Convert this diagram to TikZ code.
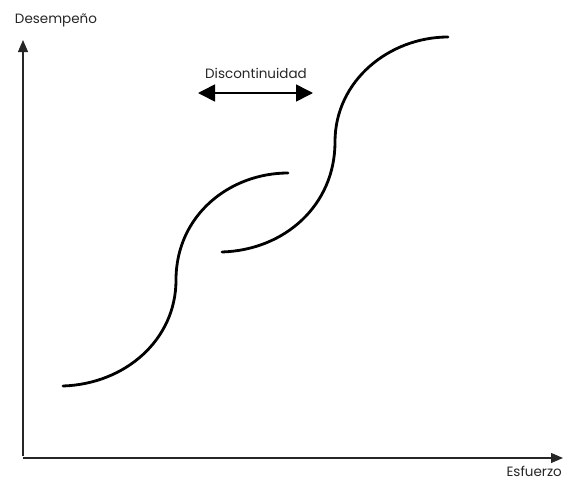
\documentclass[tikz,border=0pt]{standalone}
\usepackage{fontspec}
\setmainfont{Poppins}
\usepackage{tikz}
\usetikzlibrary{arrows.meta, positioning}

\begin{document}
\begin{tikzpicture}[
    x=1pt, y=-1pt,
    axis/.style={line width=1.3pt, black!85, -{Triangle[length=12pt, width=10pt]}},
    curve/.style={line width=2.8pt, line cap=round},
    gap/.style={line width=1.6pt, {Triangle[length=17pt, width=17pt]}-{Triangle[length=17pt, width=17pt]}},
    lbl/.style={font=\fontsize{13.5}{15}\selectfont, inner sep=0pt, black!85},
]
  \useasboundingbox (0,0) rectangle (566,482);

  % ---- Axes ----
  \coordinate (orig)  at (23,456);
  \coordinate (ytop)  at (23,40);
  \coordinate (xorig) at (23,458);
  \coordinate (xend)  at (563,458);
  \draw[axis] (orig) -- (ytop);
  \draw[axis] (xorig) -- (xend);

  \node[lbl] (ylab) at (56,20)  {Desempeño};
  \node[lbl, anchor=east] (xlab) at (562,471) {Esfuerzo};

  % ---- Discontinuity ----
  \node[lbl] (dlab) at (256,73) {Discontinuidad};
  \coordinate (dl) at (198,93);
  \coordinate (dr) at (313,93);
  \draw[gap] (dl) -- (dr);

  % ---- Lower S curve ----
  \draw[curve] (63,386) .. controls (125,384) and (176,340) .. (176,280)
                        .. controls (176,215) and (230,173) .. (288,173);

  % ---- Upper S curve ----
  \draw[curve] (222,252) .. controls (285,250) and (335,205) .. (335,142)
                         .. controls (335,80) and (390,37) .. (448,37);

\end{tikzpicture}
\end{document}
